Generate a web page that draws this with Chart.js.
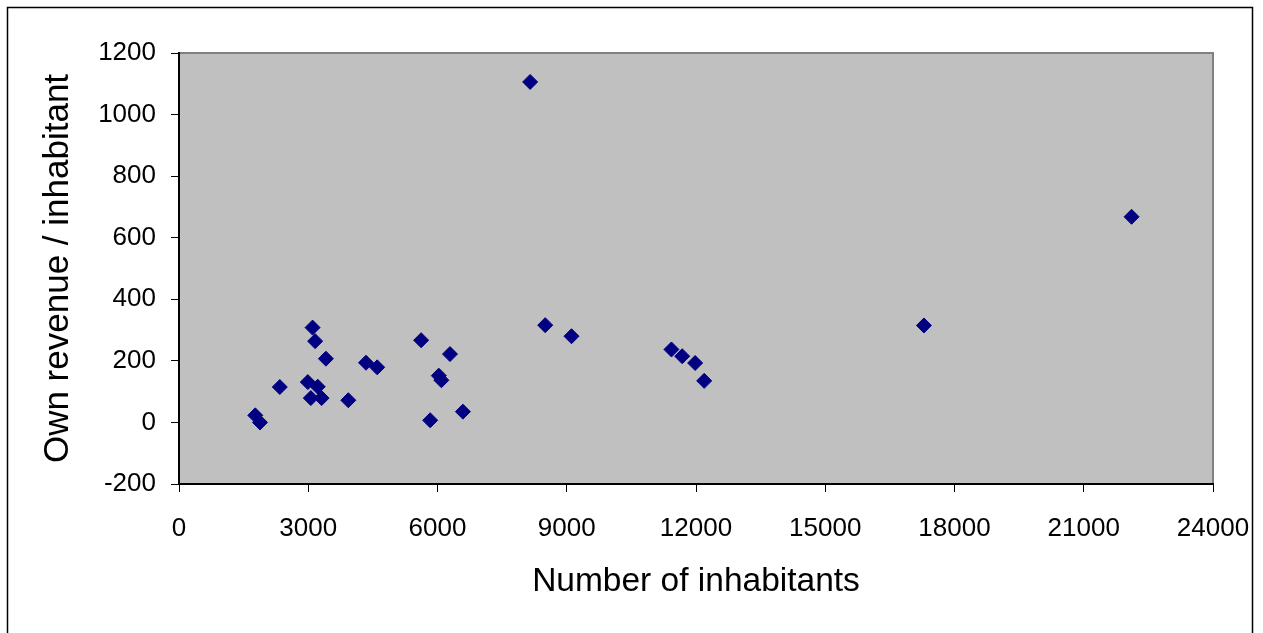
<!DOCTYPE html>
<html>
<head>
<meta charset="utf-8">
<title>Own revenue per inhabitant</title>
<script src="https://cdn.jsdelivr.net/npm/chart.js@4/dist/chart.umd.min.js"></script>
<style>
  html, body { margin: 0; padding: 0; background: #fff; }
  #wrap { width: 1263px; height: 633px; }
</style>
</head>
<body>
<div id="wrap"><canvas id="chart" width="1263" height="633"></canvas></div>
<script>
// number of inhabitants per municipality
const inhabitants = [
  3100, 3160, 3410, 2340, 2990, 3220, 3060, 3310, 3930, 1770,
  1880, 4340, 4600, 5620, 6290, 6030, 6090, 5830, 6590, 8500,
  9110, 11430, 11680, 11980, 12190, 8150, 17290, 22110
];
// own revenue / inhabitant
const revenuePerInhabitant = [
  308, 264, 207, 115, 131, 116, 79, 79, 72, 23,
  0, 194, 179, 267, 222, 152, 137, 7, 35, 316,
  280, 237, 215, 193, 135, 1106, 315, 668
];
// tick values
const xTicks = [0, 3000, 6000, 9000, 12000, 15000, 18000, 21000, 24000];
const yTicks = [-200, 0, 200, 400, 600, 800, 1000, 1200];

const points = inhabitants.map((x, i) => ({ x: x, y: revenuePerInhabitant[i] }));

const FONT = 'Liberation Sans, Arial, Helvetica, sans-serif';

// white page, outer frame, grey plot area with grey border
const framePlugin = {
  id: 'frame',
  beforeDraw(chart) {
    const { ctx, chartArea: a } = chart;
    ctx.save();
    ctx.fillStyle = '#ffffff';
    ctx.fillRect(0, 0, chart.width, chart.height);
    ctx.strokeStyle = '#000000';
    ctx.lineWidth = 1.5;
    ctx.strokeRect(7.5, 7.5, 1245, 700);
    ctx.fillStyle = '#c0c0c0';
    ctx.fillRect(a.left, a.top, a.right - a.left, a.bottom - a.top);
    ctx.strokeStyle = '#808080';
    ctx.lineWidth = 2;
    ctx.strokeRect(a.left, a.top, a.right - a.left, a.bottom - a.top);
    ctx.restore();
  }
};

new Chart(document.getElementById('chart'), {
  type: 'scatter',
  data: {
    datasets: [{
      label: 'Own revenue / inhabitant',
      data: points,
      pointStyle: 'rectRot',
      pointRadius: 7.5,
      pointHoverRadius: 7.5,
      backgroundColor: '#000080',
      borderColor: '#000080',
      borderWidth: 1
    }]
  },
  options: {
    responsive: false,
    animation: false,
    layout: { padding: { top: 53, right: 50, left: 0, bottom: 0 } },
    plugins: {
      legend: { display: false },
      tooltip: { enabled: false }
    },
    scales: {
      x: {
        type: 'linear',
        min: 0,
        max: 24000,
        afterFit: (scale) => {
          scale.height = 149;
          scale.paddingLeft = 0;
          scale.paddingRight = 0;
        },
        afterBuildTicks: (scale) => { scale.ticks = xTicks.map(v => ({ value: v })); },
        grid: { drawOnChartArea: false, drawTicks: true, tickLength: 8, tickColor: '#000', tickWidth: 1 },
        border: { display: true, color: '#000', width: 2 },
        ticks: {
          color: '#000',
          font: { family: FONT, size: 26 },
          padding: 21,
          maxRotation: 0,
          autoSkip: false,
          callback: (v) => String(v)
        },
        title: {
          display: true,
          text: 'Number of inhabitants',
          color: '#000',
          font: { family: FONT, size: 33.5 },
          padding: { top: 0, bottom: 31 }
        }
      },
      y: {
        type: 'linear',
        min: -200,
        max: 1200,
        afterFit: (scale) => {
          scale.width = 179;
          scale.paddingTop = 0;
          scale.paddingBottom = 0;
        },
        afterBuildTicks: (scale) => { scale.ticks = yTicks.map(v => ({ value: v })); },
        grid: { drawOnChartArea: false, drawTicks: true, tickLength: 8, tickColor: '#000', tickWidth: 1 },
        border: { display: true, color: '#000', width: 2 },
        ticks: {
          color: '#000',
          font: { family: FONT, size: 26 },
          padding: 15,
          autoSkip: false,
          callback: (v) => String(v)
        },
        title: {
          display: true,
          text: 'Own revenue / inhabitant',
          color: '#000',
          font: { family: FONT, size: 35 },
          padding: { top: 37, bottom: 0 }
        }
      }
    }
  },
  plugins: [framePlugin]
});
</script>
</body>
</html>
